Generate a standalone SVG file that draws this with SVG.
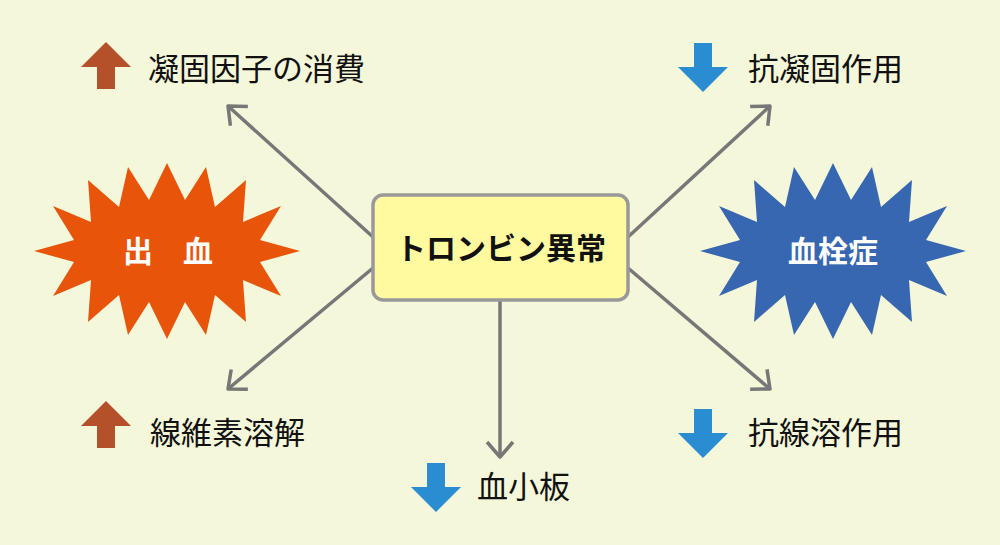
<svg xmlns="http://www.w3.org/2000/svg" xmlns:xlink="http://www.w3.org/1999/xlink" width="1000" height="545" viewBox="0 0 1000 545">
<style>
.lbl{font-family:"Noto Sans CJK JP","Noto Sans",sans-serif;font-size:31px;fill:#111;}
.burst-t{font-family:"Noto Sans CJK JP","Noto Sans",sans-serif;font-size:30px;font-weight:bold;fill:#fff;text-anchor:middle;}
.center-t{font-family:"Noto Sans CJK JP","Noto Sans",sans-serif;font-size:30px;font-weight:bold;fill:#111;text-anchor:middle;}
.conn{stroke:#777;stroke-width:3.5;fill:none;marker-end:url(#chev);}
.up{fill:#B5512A;}
.down{fill:#2A8DD2;}
</style>
<defs>
<marker id="chev" markerUnits="userSpaceOnUse" markerWidth="40" markerHeight="40" refX="0" refY="0" orient="auto" overflow="visible" viewBox="-20 -20 40 40">
<path d="M-15,-13 L0,0 L-15,13" fill="none" stroke="#777" stroke-width="3.5" stroke-linejoin="round"/>
</marker>
<path id="burst" d="M0,-88 L18,-51 L39,-84 L48,-44 L79,-71 L76,-29 L114,-45 L93,-11 L133,0 L93,11 L114,45 L76,29 L79,71 L48,44 L39,84 L18,51 L0,88 L-18,51 L-39,84 L-48,44 L-79,71 L-76,29 L-114,45 L-93,11 L-133,0 L-93,-11 L-114,-45 L-76,-29 L-79,-71 L-48,-44 L-39,-84 L-18,-51 Z"/>
<path id="uparrow" d="M0,0 L25,25 L9,25 L9,47 L-9,47 L-9,25 L-25,25 Z"/>
<path id="downarrow" d="M-9,0 L9,0 L9,24 L25,24 L0,49 L-25,24 L-9,24 Z"/>
</defs>
<rect x="0" y="0" width="1000" height="545" fill="#F5F7DA"/>
<g id="connectors">
<line class="conn" x1="373" y1="237" x2="228" y2="106"/>
<line class="conn" x1="373" y1="268" x2="228" y2="389"/>
<line class="conn" x1="500" y1="300" x2="500" y2="457"/>
<line class="conn" x1="628" y1="237" x2="770" y2="106"/>
<line class="conn" x1="628" y1="268" x2="770" y2="389"/>
</g>
<g id="bleeding">
<use xlink:href="#burst" href="#burst" transform="translate(167,251)" fill="#E8540A"/>
<text class="burst-t" x="168" y="262">出　血</text>
</g>
<g id="thrombosis">
<use xlink:href="#burst" href="#burst" transform="translate(833,251)" fill="#3767B0"/>
<text class="burst-t" x="833" y="262">血栓症</text>
</g>
<g id="thrombin">
<rect x="373" y="195" width="255" height="105" rx="10" fill="#FFF9A0" stroke="#999" stroke-width="3.5"/>
<text class="center-t" x="501" y="259">トロンビン異常</text>
</g>
<g id="coag-factor">
<use xlink:href="#uparrow" href="#uparrow" class="up" transform="translate(106,42)"/>
<text class="lbl" x="148" y="80">凝固因子の消費</text>
</g>
<g id="fibrinolysis">
<use xlink:href="#uparrow" href="#uparrow" class="up" transform="translate(106,401)"/>
<text class="lbl" x="150" y="444">線維素溶解</text>
</g>
<g id="platelet">
<use xlink:href="#downarrow" href="#downarrow" class="down" transform="translate(436,463)"/>
<text class="lbl" x="477" y="498">血小板</text>
</g>
<g id="anticoag">
<use xlink:href="#downarrow" href="#downarrow" class="down" transform="translate(703,43)"/>
<text class="lbl" x="748" y="80">抗凝固作用</text>
</g>
<g id="antifibrinolysis">
<use xlink:href="#downarrow" href="#downarrow" class="down" transform="translate(703,409)"/>
<text class="lbl" x="748" y="444">抗線溶作用</text>
</g>
</svg>
